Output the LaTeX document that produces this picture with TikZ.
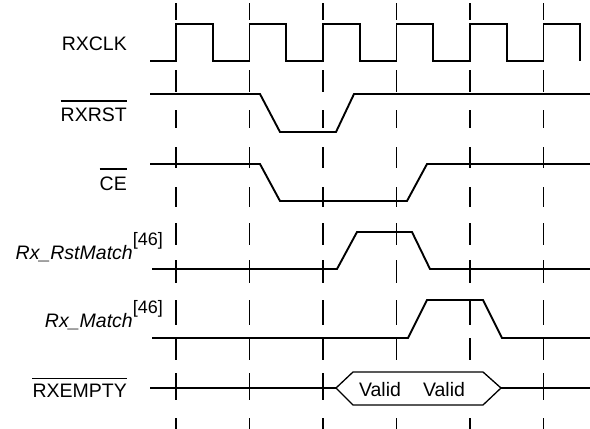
\documentclass[tikz,border=0pt]{standalone}
\usepackage{fontspec}
\setmainfont{Liberation Sans}
\begin{document}
\begin{tikzpicture}[x=1pt,y=-1pt,
  sig/.style={line width=1.9pt, line join=miter},
  busline/.style={line width=1.3pt, line join=miter, fill=white},
  grid/.style={line width=1.9pt},
  lbl/.style={anchor=base east, inner sep=0pt, font=\fontsize{19.5}{21}\selectfont},
  ovl/.style={line width=1.4pt},
  txt/.style={inner sep=0pt, font=\fontsize{19.5}{21}\selectfont}]
\useasboundingbox (0,0) rectangle (590,429);
% dashed clock-edge markers
\foreach \x in {176,249.5,323,396.5,470,543.5}{
  \foreach \a/\b in {3/20,70/92,110/128,147/168,187/207,223/245,260/283,300/325,338/360,373/400,418/429}{
    \draw[grid] (\x,\a) -- (\x,\b);
  }
}
% RXCLK
\draw[sig] (150,61) -- (176,61) -- (176,24) -- (213,24) -- (213,61)
  -- (249.5,61) -- (249.5,24) -- (286,24) -- (286,61)
  -- (323,61) -- (323,24) -- (360,24) -- (360,61)
  -- (396.5,61) -- (396.5,24) -- (433,24) -- (433,61)
  -- (470,61) -- (470,24) -- (507,24) -- (507,61)
  -- (543.5,61) -- (543.5,24) -- (580,24) -- (580,61);
% RXRST
\draw[sig] (150,94) -- (260,94) -- (280,132) -- (336,132) -- (354,94) -- (590,94);
% CE
\draw[sig] (150,164) -- (260,164) -- (280,201) -- (407,201) -- (427,164) -- (590,164);
% Rx_RstMatch
\draw[sig] (152,269) -- (337,269) -- (357,232) -- (412,232) -- (430,269) -- (590,269);
% Rx_Match
\draw[sig] (152,338) -- (408,338) -- (427,300) -- (483,300) -- (502,338) -- (590,338);
% RXEMPTY
\draw[sig] (150,388) -- (336,388);
\draw[sig] (501,388) -- (590,388);
\draw[busline] (336,388) -- (353,372) -- (483,372) -- (501,388) -- (483,405) -- (353,405) -- cycle;
\node[txt] (v1) at (380,390) {Valid};
\node[txt] (v2) at (444,390) {Valid};
% labels
\node[lbl] (lclk) at (127,50) {RXCLK};
\node[lbl] (lrst) at (127,121) {RXRST};
\draw[ovl] ([yshift=6pt]lrst.north west) -- ([yshift=6pt]lrst.north east);
\node[lbl] (lce) at (127,190) {CE};
\draw[ovl] ([yshift=7pt]lce.north west) -- ([yshift=7pt]lce.north east);
\node[lbl] (lrm) at (163,259) {\itshape Rx\_RstMatch\upshape\raisebox{14pt}{\fontsize{18}{18}\selectfont[46]}};
\node[lbl] (lm) at (163,327) {\itshape Rx\_Match\upshape\raisebox{14pt}{\fontsize{18}{18}\selectfont[46]}};
\node[lbl] (lemp) at (127,397) {RXEMPTY};
\draw[ovl] ([yshift=5pt]lemp.north west) -- ([yshift=5pt]lemp.north east);
\end{tikzpicture}
\end{document}
